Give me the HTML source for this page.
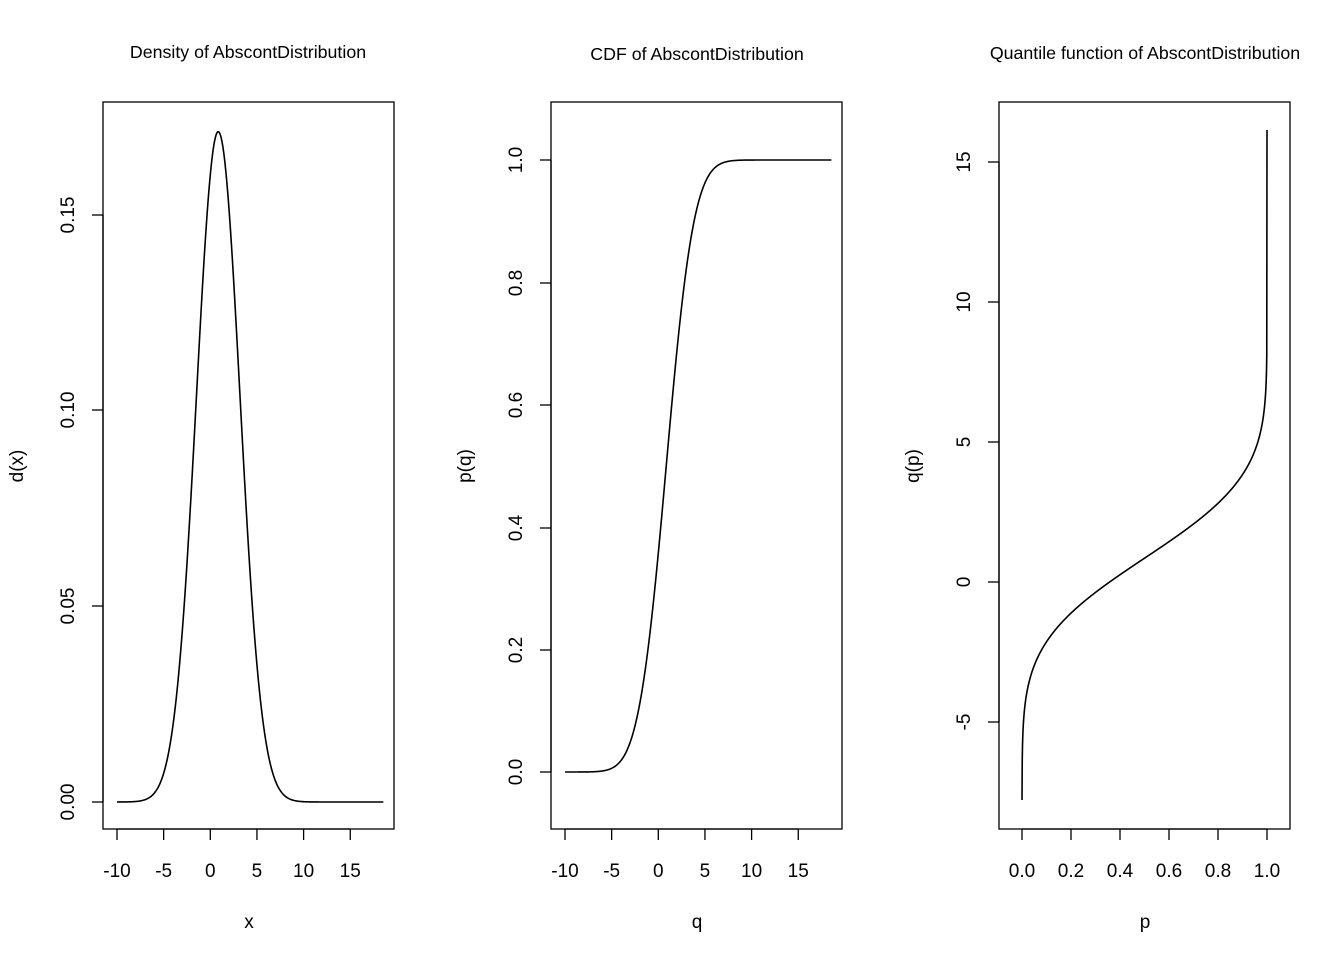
<!DOCTYPE html>
<html><head><meta charset="utf-8"><style>
html,body{margin:0;padding:0;background:#fff;}
svg{display:block;font-family:"Liberation Sans",Arial,sans-serif;}
</style></head><body>
<svg id="s" width="1344" height="960" xmlns="http://www.w3.org/2000/svg">
<g fill="none" stroke="#000" stroke-width="1.3">
<rect x="103" y="102" width="291" height="727"/>
<rect x="551" y="102" width="291" height="727"/>
<rect x="999" y="102" width="291" height="727"/>
</g>
<g font-size="17.8" text-anchor="middle">
<text x="248" y="58">Density of AbscontDistribution</text>
<text x="697" y="60">CDF of AbscontDistribution</text>
<text x="1145" y="59">Quantile function of AbscontDistribution</text>
</g>
<g font-size="19" text-anchor="middle">
<text x="249" y="928">x</text>
<text x="697" y="928">q</text>
<text x="1145" y="928">p</text>
<text transform="translate(23,466) rotate(-90)">d(x)</text>
<text transform="translate(471,466) rotate(-90)">p(q)</text>
<text transform="translate(919,466) rotate(-90)">q(p)</text>
</g>
<g id="ticks" stroke="#000" stroke-width="1.3" fill="none"></g>
<g id="labs" font-size="19" text-anchor="middle"></g>
<g id="curves" stroke="#000" stroke-width="1.6" fill="none"></g>
</svg>
<script>
var NS="http://www.w3.org/2000/svg";
function el(p,t,a,txt){var e=document.createElementNS(NS,t);for(var k in a)e.setAttribute(k,a[k]);if(txt!==undefined)e.textContent=txt;document.getElementById(p).appendChild(e);}
var xv=[-10,-5,0,5,10,15];
[0,448].forEach(function(o){
 el("ticks","line",{x1:117+o,y1:829,x2:350+o,y2:829});
 xv.forEach(function(v){var x=117+o+(v+10)*9.33;el("ticks","line",{x1:x,y1:829,x2:x,y2:840});el("labs","text",{x:x,y:877},String(v));});
});
el("ticks","line",{x1:1022,y1:829,x2:1267,y2:829});
["0.0","0.2","0.4","0.6","0.8","1.0"].forEach(function(s,i){var x=1022+i*49;el("ticks","line",{x1:x,y1:829,x2:x,y2:840});el("labs","text",{x:x,y:877},s);});
function yt(x0,ys,labs){el("ticks","line",{x1:x0,y1:ys[0],x2:x0,y2:ys[ys.length-1]});ys.forEach(function(y,i){el("ticks","line",{x1:x0,y1:y,x2:x0-11,y2:y});el("labs","text",{transform:"translate("+(x0-29)+","+y+") rotate(-90)"},labs[i]);});}
yt(103,[802,606,410,215],["0.00","0.05","0.10","0.15"]);
yt(551,[772,650,528,405,283,160],["0.0","0.2","0.4","0.6","0.8","1.0"]);
yt(999,[722,582,442,302,162],["-5","0","5","10","15"]);
var mu=0.85,sd=2.33;
function erf(x){var s=x<0?-1:1;x=Math.abs(x);var t=1/(1+0.3275911*x);var y=1-(((((1.061405429*t-1.453152027)*t)+1.421413741)*t-0.284496736)*t+0.254829592)*t*Math.exp(-x*x);return s*y;}
function pdf(x){var z=(x-mu)/sd;return Math.exp(-z*z/2)/(sd*2.5066283);}
function cdf(x){return 0.5*(1+erf((x-mu)/(sd*Math.SQRT2)));}
function qf(p){var a=-20,b=25;for(var i=0;i<60;i++){var m=(a+b)/2;if(cdf(m)<p)a=m;else b=m;}return a;}
var d1="",d2="";
for(var x=-10;x<=18.6;x+=0.05){var px=117+(x+10)*9.33;d1+=(d1?"L":"M")+px.toFixed(2)+","+(802-pdf(x)*3915).toFixed(2);d2+=(d2?"L":"M")+(px+448).toFixed(2)+","+(772-cdf(x)*612).toFixed(2);}
el("curves","path",{d:d1});el("curves","path",{d:d2});
var d3="M1022,800";
for(var i=1;i<1000;i++){var p=i/1000;var q=qf(p);d3+="L"+(1022+p*245).toFixed(2)+","+(582-q*28).toFixed(2);}
d3+="L1267,130";
el("curves","path",{d:d3});
</script>
</body></html>
